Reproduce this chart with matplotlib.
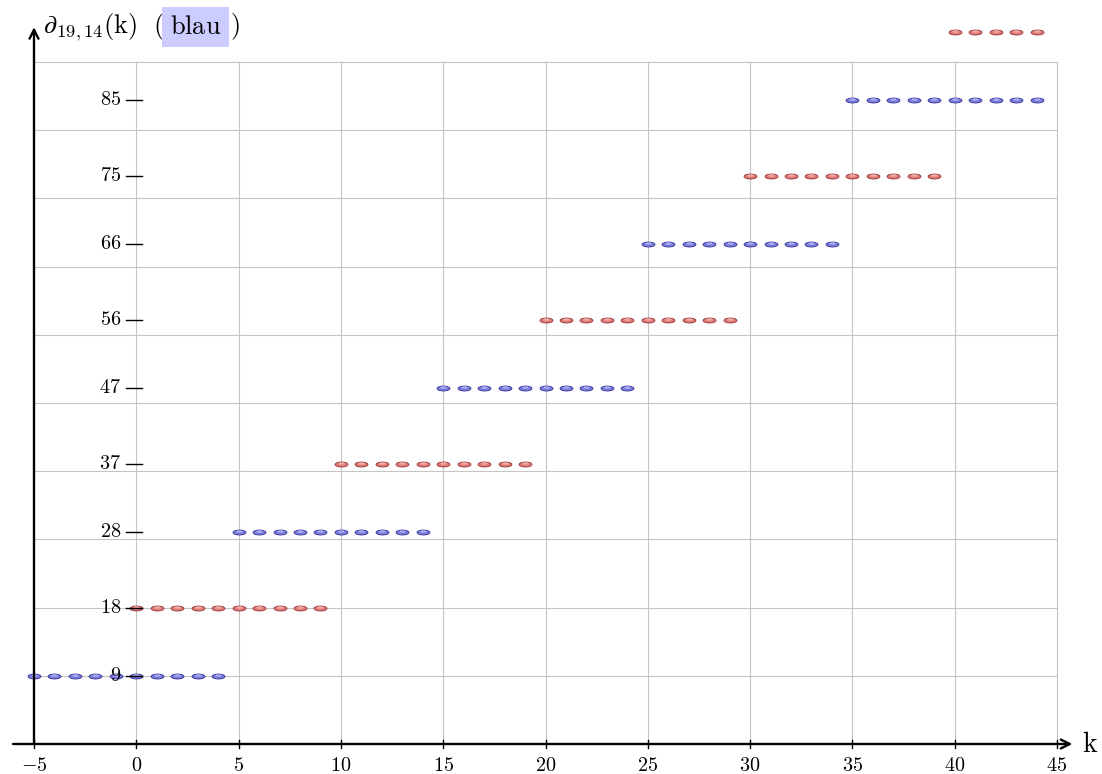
import matplotlib
matplotlib.use("Agg")
import matplotlib.pyplot as plt
from matplotlib.path import Path
from matplotlib.transforms import Affine2D

plt.rcParams['mathtext.fontset'] = 'cm'
plt.rcParams['font.family'] = ['DejaVu Serif']

# treppen: (k_start, k_end, wert)
blue_steps = [(-5, 4, 9), (5, 14, 28), (15, 24, 47), (25, 34, 66), (35, 44, 85)]
red_steps = [(0, 9, 18), (10, 19, 37), (20, 29, 56), (30, 39, 75), (40, 44, 94)]
y_ticks = [9, 18, 28, 37, 47, 56, 66, 75, 85]
x_ticks = [-5, 0, 5, 10, 15, 20, 25, 30, 35, 40, 45]
grid_x = [0, 5, 10, 15, 20, 25, 30, 35, 40, 45]
grid_y = [9, 18, 27, 36, 45, 54, 63, 72, 81, 90]

W, H = 1102, 774
px_x = 1023 / 50
px_y = 682 / 90

fig = plt.figure(figsize=(W / 100, H / 100), dpi=100)
ax = fig.add_axes([0, 0, 1, 1])
ax.axis('off')
ax.set_xlim(-5 - 34 / px_x, 45 + (W - 1057) / px_x)
ax.set_ylim(-(H - 744) / px_y, 744 / px_y)

# gitter
for gx in grid_x:
    ax.plot([gx, gx], [0, 90], color='#c4c4c4', lw=0.8, zorder=1)
for gy in grid_y:
    ax.plot([-5, 45], [gy, gy], color='#c4c4c4', lw=0.8, zorder=1)

# ellipse als marker
ell = Path.unit_circle().transformed(Affine2D().scale(1, 0.38))


def punkte(steps, face, edge, light):
    ks, vs = [], []
    for a, b, v in steps:
        for k in range(a, b + 1):
            ks.append(k)
            vs.append(v)
    ax.plot(ks, vs, ls='none', marker=ell, ms=9.2, mfc=face, mec=edge, mew=0.7, zorder=3)
    ax.plot(ks, [v + 0.12 for v in vs], ls='none', marker=ell, ms=4.8, mfc=light,
            mec='none', alpha=0.8, zorder=4)


punkte(blue_steps, '#7c7ce0', '#3b3b9c', '#b4b4f4')
punkte(red_steps, '#e07c7c', '#9c3b3b', '#f4b4b4')

# achsen
arrow = dict(arrowstyle='->', lw=1.7, color='black', shrinkA=0, shrinkB=0, mutation_scale=16)
ax.annotate('', xy=(45.75, 0), xytext=(-5 - 21 / px_x, 0), arrowprops=arrow, zorder=5)
ax.annotate('', xy=(-5, 94.6), xytext=(-5, 0), arrowprops=arrow, zorder=5)

for xt in x_ticks:
    ax.plot([xt, xt], [-0.5, 0.5], color='black', lw=1.0, zorder=5)
    ax.text(xt, -2.9, f'${xt}$', ha='center', va='center', fontsize=14.5, zorder=6)

for yt in y_ticks:
    ax.plot([-0.5, 0.3], [yt, yt], color='black', lw=1.0, zorder=5)
    ax.text(-0.75, yt, f'${yt}$', ha='right', va='center', fontsize=14.5, zorder=6)

ax.text(46.2, -1.05, r'$\mathrm{k}$', ha='left', va='baseline', fontsize=20)

# titel
ty = (744 - 27) / px_y
x0 = ax.get_xlim()[0]
ax.text(x0 + 43 / px_x, ty, r'$\partial_{19,14}(\mathrm{k})\ \ ($', ha='left', va='center', fontsize=19)
ax.text(x0 + 170 / px_x, ty, r'$\mathrm{blau}$', ha='left', va='center', fontsize=19,
        bbox=dict(boxstyle='square,pad=0.3', fc='#ccccff', ec='none'))
ax.text(x0 + 230 / px_x, ty, r'$)$', ha='left', va='center', fontsize=19)

fig.savefig('out.png', dpi=100)
